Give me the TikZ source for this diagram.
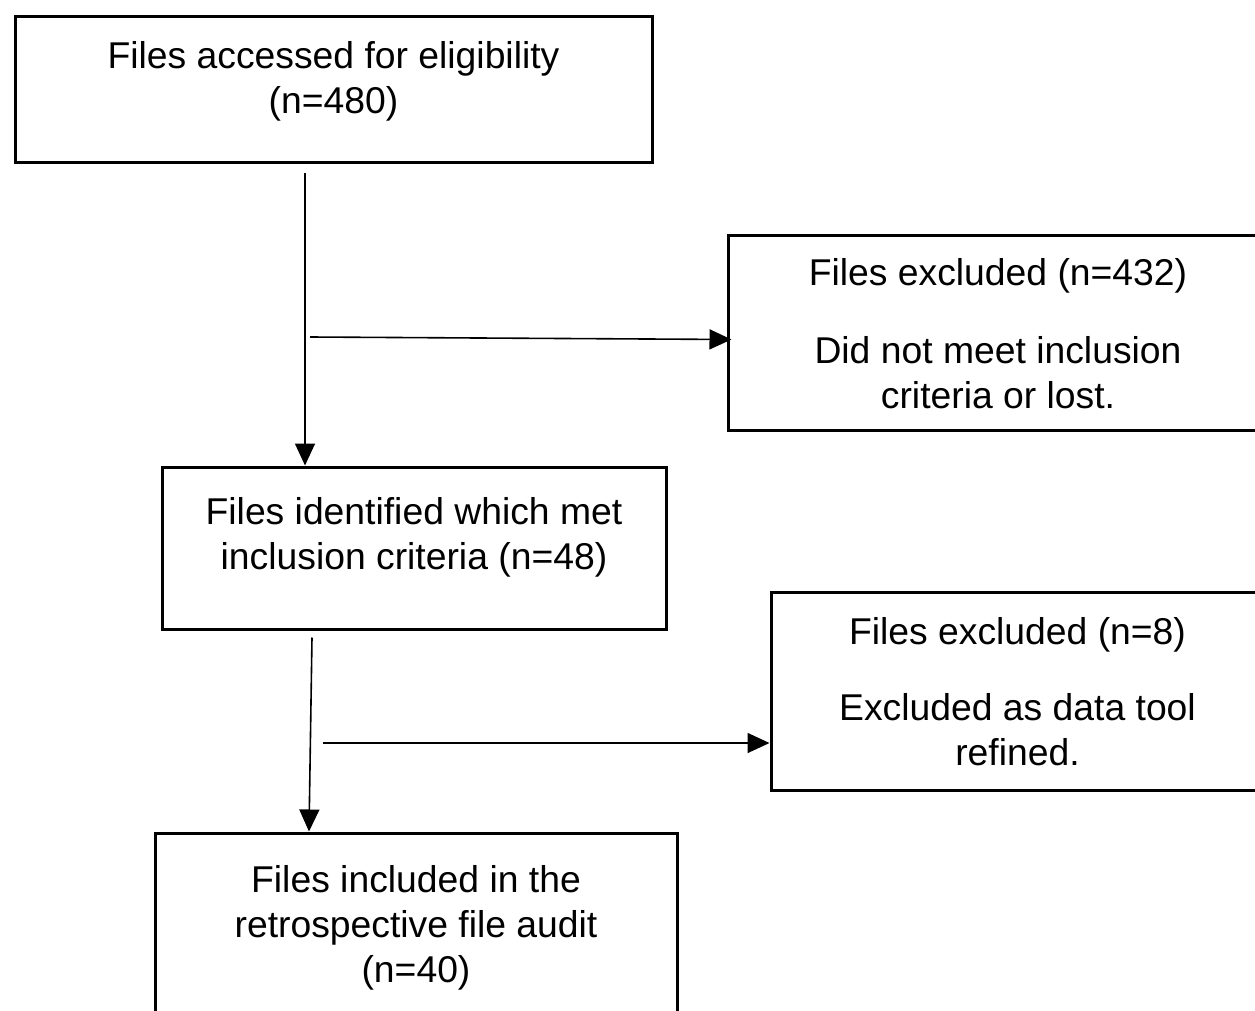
\documentclass[tikz,border=0pt]{standalone}
\usepackage{fontspec}
\setmainfont{Liberation Sans}
\usetikzlibrary{arrows.meta}

\begin{document}
\begin{tikzpicture}[x=1pt,y=-1pt,
     box/.style={draw, rectangle, line width=3pt, align=center, inner sep=0pt, text depth=0pt},
     flow/.style={line width=1.6pt, -{Triangle[length=22pt,width=20pt]}}]

     \useasboundingbox (0,0) rectangle (1255,1011);
     \clip (0,0) rectangle (1255,1011);

     \begin{scope}[every node/.style={font=\fontsize{37.3}{45}\selectfont}]
     \node[box, minimum width=637pt, minimum height=146pt, text height=47pt] (Accessed) at (333.5,90) {Files accessed for eligibility\\(n=480)};
     \node[box, minimum width=540pt, minimum height=195pt, text height=151pt] (Excluded) at (998,332.5) {Files excluded (n=432)\\[33pt]Did not meet inclusion\\criteria or lost.};
     \node[box, minimum width=504pt, minimum height=162pt, text height=42pt] (Identified) at (414,548) {Files identified which met\\inclusion criteria (n=48)};
     \node[box, minimum width=493pt, minimum height=198pt, text height=148pt] (ExcludedTwo) at (1017.5,691) {Files excluded (n=8)\\[31pt]Excluded as data tool\\refined.};
     \node[box, minimum width=522pt, minimum height=198pt, text height=100pt] (Included) at (416,932) {Files included in the\\retrospective file audit\\(n=40)};
     \end{scope}

     % connectors
     \coordinate (BranchOne) at (310,337);
     \coordinate (BranchTwo) at (323,743);
     \draw[flow] ([xshift=-28.5pt,yshift=-9pt]Accessed.south) -- ([xshift=-109pt]Identified.north);
     \draw[flow] (BranchOne) -- ([xshift=5pt,yshift=-7pt]Excluded.west);
     \draw[flow] ([xshift=-102pt,yshift=-7pt]Identified.south) -- ([xshift=-107pt]Included.north);
     \draw[flow] (BranchTwo) -- ([yshift=-52pt]ExcludedTwo.west);
\end{tikzpicture}
\end{document}
